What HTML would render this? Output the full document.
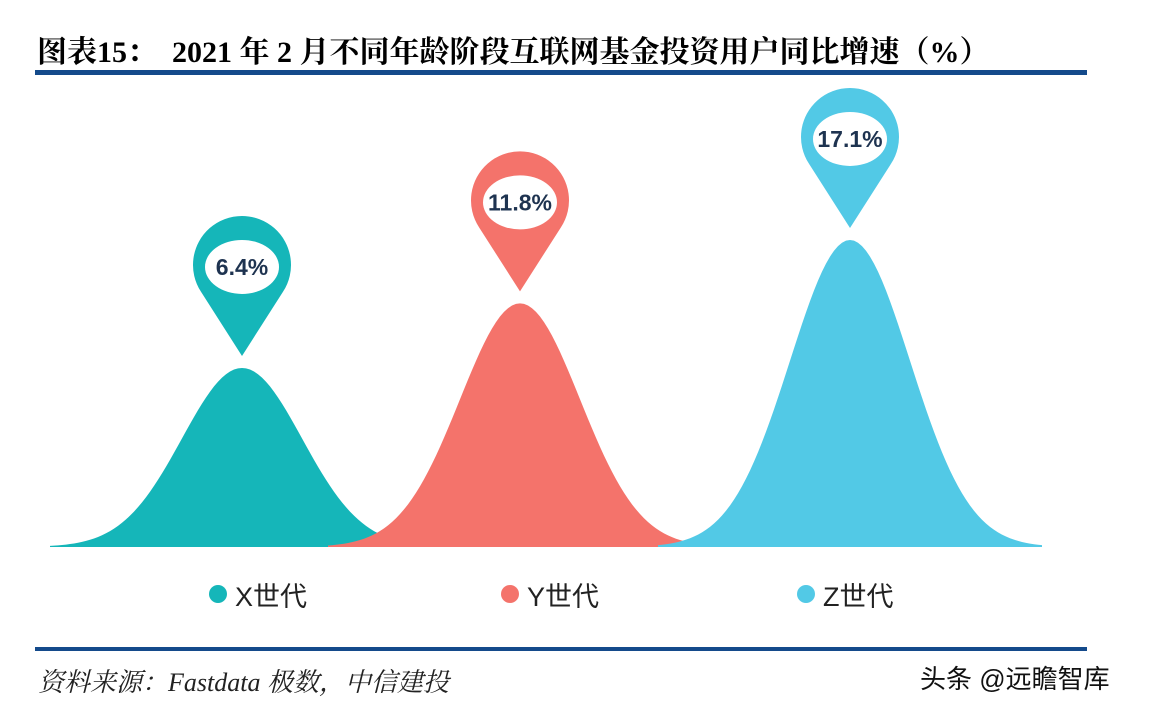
<!DOCTYPE html>
<html><head><meta charset="utf-8"><style>
body{margin:0;background:#fff;width:1150px;height:708px;overflow:hidden;position:relative;font-family:"Liberation Sans","Noto Sans CJK SC",sans-serif}
.t{position:absolute;left:37px;top:27px;font:bold 30px "Liberation Serif","Noto Serif CJK SC",serif;color:#000;white-space:nowrap}
.bar{position:absolute;left:35px;width:1052px;background:#144a8b}
.src{position:absolute;left:38px;top:662px;font:italic 26px "Liberation Serif","Noto Serif CJK SC",serif;color:#222;white-space:nowrap}
.wm{position:absolute;left:920px;top:659px;font-size:26px;color:#111;white-space:nowrap}
</style></head><body>
<div class="t">图表15：&nbsp; 2021 年 2 月不同年龄阶段互联网基金投资用户同比增速（%）</div>
<div class="bar" style="top:70px;height:5px"></div>
<svg id="c" width="1150" height="708" style="position:absolute;left:0;top:0"></svg>
<div class="bar" style="top:647px;height:4px"></div>
<div class="src">资料来源：Fastdata 极数，中信建投</div>
<div class="wm">头条 @远瞻智库</div>
<script>
const categories=["X世代","Y世代","Z世代"];
const values=[6.4,11.8,17.1];
const labels=["6.4%","11.8%","17.1%"];
const colors=["#15b6b9","#f4736b","#52c9e6"];
const centers=[242,520,850];
const NS="http://www.w3.org/2000/svg";
const svg=document.getElementById('c');
const base=547;
function yScale(v){return base-(102.5+11.96*v);}
function mk(t,a){const e=document.createElementNS(NS,t);for(const k in a)e.setAttribute(k,a[k]);svg.appendChild(e);return e;}
values.forEach((v,i)=>{
  const cx=centers[i],top=yScale(v),h=base-top,s=60;
  let d="M"+(cx-3.2*s)+","+base;
  for(let x=-3.2*s;x<=3.2*s;x+=4){d+=" L"+(cx+x)+","+(base-h*Math.exp(-x*x/(2*s*s)));}
  d+=" L"+(cx+3.2*s)+","+base+" Z";
  const p=mk('path',{d:d,fill:colors[i]});
  
  
  const tip=top-12,hc=tip-91,r=49;
  const a=Math.asin(0.55),sx=r*Math.cos(a),sy=r*Math.sin(a);
  const pin=mk('path',{d:`M${cx},${tip} L${cx-sx},${hc+sy} A${r},${r} 0 1 1 ${cx+sx},${hc+sy} Z`,fill:colors[i]});
  
  
  const el=mk('ellipse',{cx:cx,cy:hc+2,rx:37,ry:27,fill:'#fff'});
  
  
  const t=mk('text',{x:cx,y:hc+10,'text-anchor':'middle','font-size':23,'font-weight':'bold','font-family':'"Liberation Sans",sans-serif',fill:'#1e3350'});
  t.textContent=labels[i];
  
  
  const lx=[218,510,806][i];
  const dot=mk('circle',{cx:lx,cy:594,r:9,fill:colors[i]});
  
  
  const lt=mk('text',{x:lx+17,y:606,'font-size':27,fill:'#222','font-family':'"Liberation Sans","Noto Sans CJK SC",sans-serif'});
  lt.textContent=categories[i];
  
  
});
</script>
</body></html>
